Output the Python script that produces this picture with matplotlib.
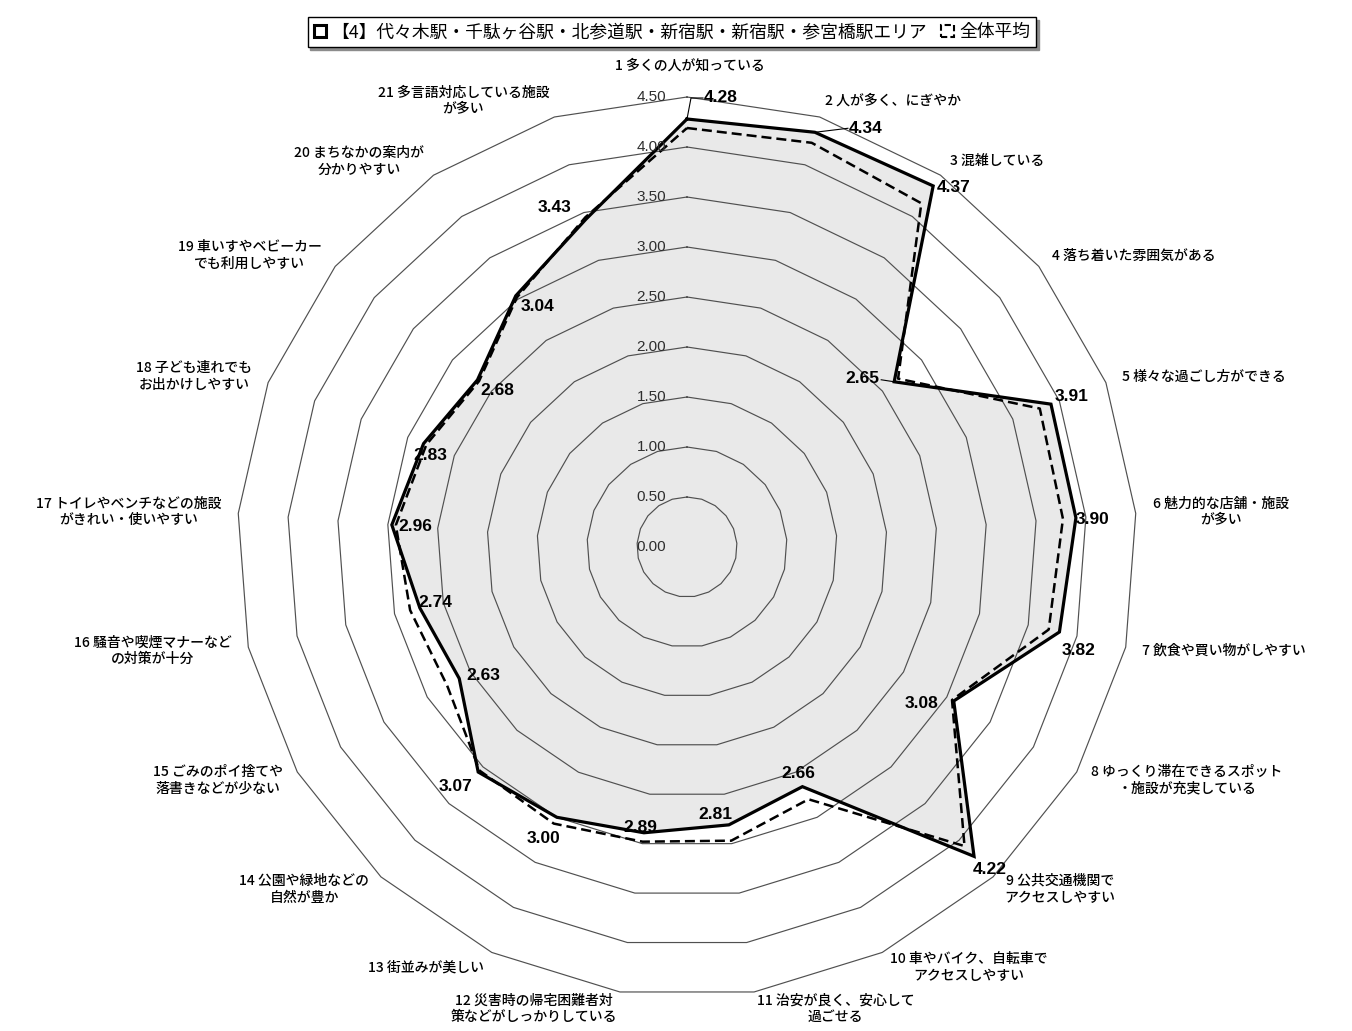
import numpy as np
import matplotlib.pyplot as plt
from matplotlib.patches import Patch

plt.rcParams['font.family'] = ['Noto Sans CJK JP', 'DejaVu Sans']

# axis labels, clockwise from the top
categories = [
    "1 多くの人が知っている",
    "2 人が多く、にぎやか",
    "3 混雑している",
    "4 落ち着いた雰囲気がある",
    "5 様々な過ごし方ができる",
    "6 魅力的な店舗・施設\nが多い",
    "7 飲食や買い物がしやすい",
    "8 ゆっくり滞在できるスポット\n・施設が充実している",
    "9 公共交通機関で\nアクセスしやすい",
    "10 車やバイク、自転車で\nアクセスしやすい",
    "11 治安が良く、安心して\n過ごせる",
    "12 災害時の帰宅困難者対\n策などがしっかりしている",
    "13 街並みが美しい",
    "14 公園や緑地などの\n自然が豊か",
    "15 ごみのポイ捨てや\n落書きなどが少ない",
    "16 騒音や喫煙マナーなど\nの対策が十分",
    "17 トイレやベンチなどの施設\nがきれい・使いやすい",
    "18 子ども連れでも\nお出かけしやすい",
    "19 車いすやベビーカー\nでも利用しやすい",
    "20 まちなかの案内が\n分かりやすい",
    "21 多言語対応している施設\nが多い",
]
area_values = [4.28, 4.34, 4.37, 2.65, 3.91, 3.90, 3.82, 3.08, 4.22, 2.66, 2.81,
               2.89, 3.00, 3.07, 2.63, 2.74, 2.96, 2.83, 2.68, 3.04, 3.43]
avg_values = [4.19, 4.23, 4.16, 2.70, 3.79, 3.77, 3.71, 3.06, 4.08, 2.80, 2.97,
              2.98, 3.07, 3.05, 2.77, 2.84, 2.92, 2.80, 2.66, 3.02, 3.45]
ring_values = [0.00, 0.50, 1.00, 1.50, 2.00, 2.50, 3.00, 3.50, 4.00, 4.50]
area_name = "【4】代々木駅・千駄ヶ谷駅・北参道駅・新宿駅・新宿駅・参宮橋駅エリア"
avg_name = "全体平均"

# data label offsets in pixels (dx right, dy down)
label_offsets = [(34, -21), (51, -4), (20, 2), (-32, -3), (21, -8), (17, 2), (19, 18),
                 (-32, 2), (16, 13), (-4, -13), (-14, -10), (-4, -5), (-13, 21), (-23, 14),
                 (24, -3), (15, -5), (23, 2), (7, 12), (20, 11), (22, 11), (-31, -12)]

n = len(categories)
theta = np.deg2rad(90 - np.arange(n) * 360.0 / n)
cos_t, sin_t = np.cos(theta), np.sin(theta)

def closed(v):
    v = np.asarray(v, dtype=float)
    x = np.append(v * cos_t, v[0] * cos_t[0])
    y = np.append(v * sin_t, v[0] * sin_t[0])
    return x, y

fig = plt.figure(figsize=(13.52, 10.31), dpi=100)
ax = fig.add_axes([0, 0, 1, 1])
# 100 px per unit, centre of the radar at pixel (687, 547)
ax.set_xlim(-6.87, 6.65)
ax.set_ylim(-4.84, 5.47)
ax.axis('off')

# filled area series
ax_x, ax_y = closed(area_values)
ax.fill(ax_x, ax_y, color='#e9e9e9', zorder=1)

# polygon gridlines
for r in ring_values[1:]:
    gx, gy = closed([r] * n)
    ax.plot(gx, gy, color='#505050', lw=0.85, zorder=2)

for r in ring_values:
    ax.text(-0.21, r, f"{r:.2f}", ha='right', va='center', fontsize=11,
            family='Liberation Sans', color='#2e2e2e', zorder=5)

ax.plot(ax_x, ax_y, color='black', lw=2.3, zorder=4, solid_joinstyle='miter')
av_x, av_y = closed(avg_values)
ax.plot(av_x, av_y, color='black', lw=1.8, ls=(0, (4, 2)), zorder=3)

# data labels
for i, v in enumerate(area_values):
    px, py = v * cos_t[i], v * sin_t[i]
    dx, dy = label_offsets[i]
    ax.text(px + dx / 100, py - dy / 100, f"{v:.2f}", ha='center', va='center',
            fontsize=12.5, fontweight='bold', family='Liberation Sans', zorder=6)

# leader lines for labels pushed away from their points
p = [area_values[0] * cos_t[0], area_values[0] * sin_t[0]]
ax.plot([p[0], p[0] + 0.04, p[0] + 0.16], [p[1], p[1] + 0.21, p[1] + 0.21], color='black', lw=0.8, zorder=5)
p = [area_values[1] * cos_t[1], area_values[1] * sin_t[1]]
ax.plot([p[0], p[0] + 0.33], [p[1], p[1] + 0.04], color='black', lw=0.8, zorder=5)
p = [area_values[3] * cos_t[3], area_values[3] * sin_t[3]]
ax.plot([p[0], p[0] - 0.13], [p[1], p[1] + 0.02], color='black', lw=0.8, zorder=5)

# category labels
r_lab = 4.67
for i, name in enumerate(categories):
    x, y = r_lab * cos_t[i], r_lab * sin_t[i]
    if i == 0:
        ax.text(0.03, 4.81, name, ha='center', va='center', fontsize=10, fontweight='medium')
    elif cos_t[i] > 0:
        ax.text(x, y, name, ha='left', va='center', fontsize=10, fontweight='medium',
                multialignment='center', linespacing=1.25)
    else:
        ax.text(x, y, name, ha='right', va='center', fontsize=10, fontweight='medium',
                multialignment='center', linespacing=1.25)

handles = [Patch(facecolor='white', edgecolor='black', lw=2.2),
           Patch(facecolor='white', edgecolor='black', lw=1.5, ls=(0, (3, 1.5)))]
leg = fig.legend(handles, [area_name, avg_name], loc='center', ncol=2,
                 bbox_to_anchor=(672 / 1352, 1 - 32 / 1031), fontsize=12.8,
                 frameon=True, fancybox=False, edgecolor='black', framealpha=1,
                 handlelength=0.7, handleheight=0.7, handletextpad=0.3,
                 columnspacing=0.8, borderpad=0.35,
                 shadow={'color': '0.55', 'alpha': 1})
leg.get_frame().set_linewidth(1.0)

fig.savefig('out.png', dpi=100)
